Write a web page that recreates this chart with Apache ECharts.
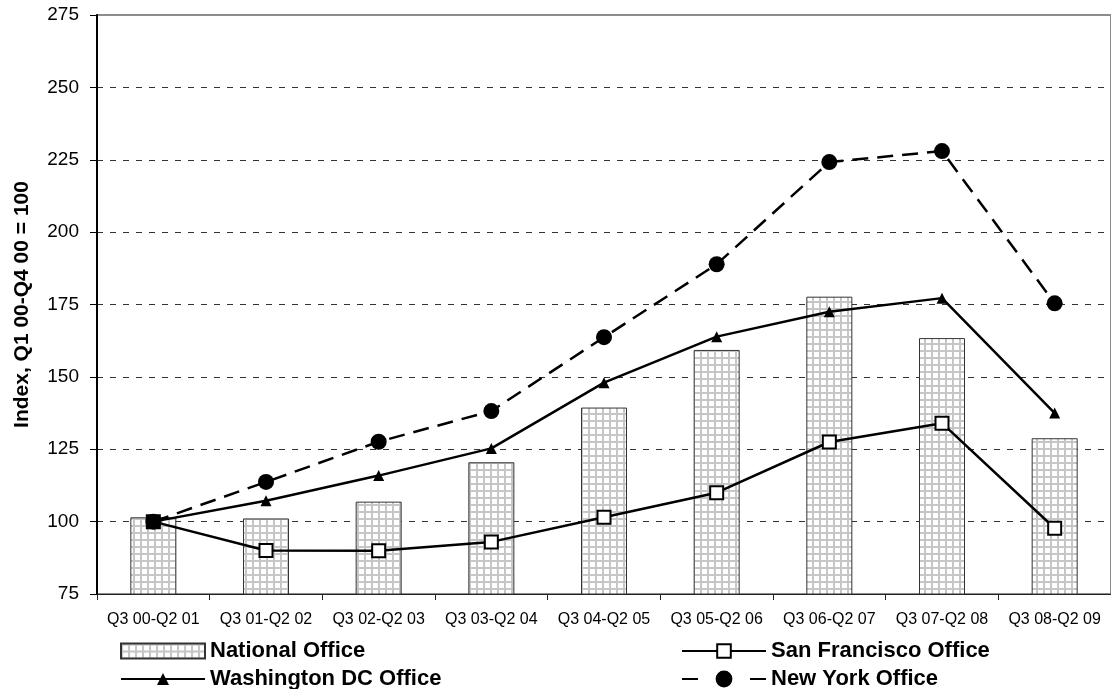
<!DOCTYPE html>
<html>
<head>
<meta charset="utf-8">
<script src="https://cdn.jsdelivr.net/npm/echarts@6/dist/echarts.min.js"></script>
<style>
html,body{margin:0;padding:0;background:#fff;}
#chart{width:1111px;height:689px;}
</style>
</head>
<body>
<div id="chart"></div>
<script>
const categories = ['Q3 00-Q2 01','Q3 01-Q2 02','Q3 02-Q2 03','Q3 03-Q2 04','Q3 04-Q2 05','Q3 05-Q2 06','Q3 06-Q2 07','Q3 07-Q2 08','Q3 08-Q2 09'];
const nationalOffice = [101.5, 101.1, 106.9, 120.5, 139.4, 159.3, 177.7, 163.4, 128.8];
const sanFrancisco   = [100, 90.0, 89.9, 93.0, 101.5, 110.0, 127.5, 134.0, 97.7];
const washingtonDC   = [100, 107.2, 115.9, 125.3, 148.0, 163.9, 172.5, 177.2, 137.5];
const newYork        = [100, 113.7, 127.6, 138.2, 163.7, 188.9, 224.2, 228.0, 175.4];
const yMin = 75, yMax = 275, yStep = 25;
const yAxisTitle = 'Index, Q1 00-Q4 00 = 100';
const seriesNames = ['National Office','San Francisco Office','Washington DC Office','New York Office'];

const FONT = "'Liberation Sans', Arial, Helvetica, sans-serif";

function makePattern(){
  const c = document.createElement('canvas');
  c.width = 7; c.height = 7;
  const g = c.getContext('2d');
  g.fillStyle = '#ffffff'; g.fillRect(0,0,7,7);
  g.fillStyle = '#c6c6c6';
  g.fillRect(0,0,7,2);
  g.fillRect(0,0,2,7);
  return c;
}
const pattern = {image: makePattern(), repeat: 'repeat'};

const sfData = sanFrancisco.map((v,i) => i === 0 ? {value: v, itemStyle: {color: '#000'}} : v);

const legendBase = {
  padding: 0,
  selectedMode: false,
  itemWidth: 84,
  textStyle: {fontFamily: FONT, fontSize: 22, fontWeight: 'bold', color: '#000'}
};

const chart = echarts.init(document.getElementById('chart'), null, {renderer: 'canvas'});
chart.setOption({
  animation: false,
  backgroundColor: '#fff',
  grid: {left: 97, right: -2, top: 15, bottom: 95, show: true, borderColor: '#8c8c8c', borderWidth: 2, backgroundColor: 'transparent'},
  legend: [
    Object.assign({}, legendBase, {data: [seriesNames[0]], left: 120, top: 640, itemHeight: 15, icon: 'rect'}),
    Object.assign({}, legendBase, {data: [seriesNames[1]], left: 681, top: 640, itemHeight: 17}),
    Object.assign({}, legendBase, {data: [seriesNames[2]], left: 120, top: 668, itemHeight: 15}),
    Object.assign({}, legendBase, {data: [seriesNames[3]], left: 681, top: 668, itemHeight: 21, lineStyle: {type: [16, 52]}})
  ],
  xAxis: {
    type: 'category',
    data: categories,
    boundaryGap: true,
    axisLine: {lineStyle: {color: '#222', width: 1}},
    axisTick: {show: true, alignWithLabel: false, length: 6, lineStyle: {color: '#222'}},
    axisLabel: {fontFamily: FONT, fontSize: 16, color: '#000', margin: 18, interval: 0},
    splitLine: {show: false}
  },
  yAxis: {
    type: 'value',
    min: yMin, max: yMax, interval: yStep,
    name: yAxisTitle,
    nameLocation: 'middle',
    nameGap: 64,
    nameTextStyle: {fontFamily: FONT, fontSize: 21, fontWeight: 'bold', color: '#000'},
    axisLine: {show: true, lineStyle: {color: '#000', width: 2}},
    axisTick: {show: true, length: 7, lineStyle: {color: '#000'}},
    axisLabel: {fontFamily: FONT, fontSize: 19, color: '#000', margin: 18},
    splitLine: {show: true, showMinLine: false, showMaxLine: false, lineStyle: {color: '#333', width: 1, type: [6, 7]}}
  },
  series: [
    {
      name: seriesNames[0], type: 'bar', data: nationalOffice, barWidth: 46,
      itemStyle: {color: pattern, borderColor: '#333', borderWidth: 1},
      z: 1
    },
    {
      name: seriesNames[2], type: 'line', data: washingtonDC,
      symbol: 'triangle', symbolSize: 11,
      lineStyle: {color: '#000', width: 2.5},
      itemStyle: {color: '#000'},
      z: 3
    },
    {
      name: seriesNames[3], type: 'line', data: newYork,
      symbol: 'circle', symbolSize: 16,
      lineStyle: {color: '#000', width: 2.5, type: [16, 9]},
      itemStyle: {color: '#000'},
      z: 4
    },
    {
      name: seriesNames[1], type: 'line', data: sfData,
      symbol: 'rect', symbolSize: 13,
      lineStyle: {color: '#000', width: 2.5},
      itemStyle: {color: '#fff', borderColor: '#000', borderWidth: 2},
      z: 5
    }
  ]
});
</script>
</body>
</html>
